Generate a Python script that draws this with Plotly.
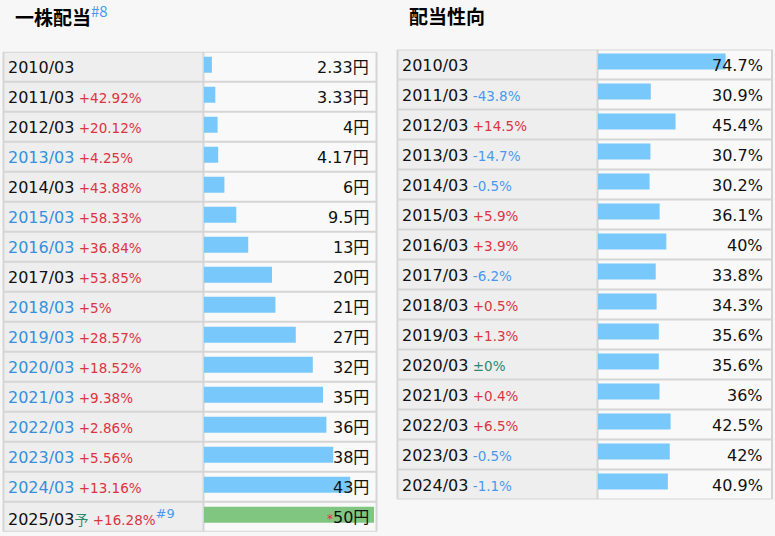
import plotly.graph_objects as go

# ---------------- data ----------------
div_years = ["2010/03", "2011/03", "2012/03", "2013/03", "2014/03", "2015/03", "2016/03", "2017/03",
             "2018/03", "2019/03", "2020/03", "2021/03", "2022/03", "2023/03", "2024/03", "2025/03"]
div_values = [2.33, 3.33, 4, 4.17, 6, 9.5, 13, 20, 21, 27, 32, 35, 36, 38, 43, 50]
div_changes = ["", "+42.92%", "+20.12%", "+4.25%", "+43.88%", "+58.33%", "+36.84%", "+53.85%",
               "+5%", "+28.57%", "+18.52%", "+9.38%", "+2.86%", "+5.56%", "+13.16%", "+16.28%"]
div_year_blue = [False, False, False, True, False, True, True, False,
                 True, True, True, True, True, True, True, False]
div_forecast = [False] * 15 + [True]

pay_years = ["2010/03", "2011/03", "2012/03", "2013/03", "2014/03", "2015/03", "2016/03", "2017/03",
             "2018/03", "2019/03", "2020/03", "2021/03", "2022/03", "2023/03", "2024/03"]
pay_values = [74.7, 30.9, 45.4, 30.7, 30.2, 36.1, 40, 33.8, 34.3, 35.6, 35.6, 36, 42.5, 42, 40.9]
pay_changes = ["", "-43.8%", "+14.5%", "-14.7%", "-0.5%", "+5.9%", "+3.9%", "-6.2%", "+0.5%",
               "+1.3%", "±0%", "+0.4%", "+6.5%", "-0.5%", "-1.1%"]

# ---------------- style ----------------
W, H = 775, 536
FONT = "DejaVu Sans, Noto Sans CJK JP, sans-serif"
BAR_BLUE = "#78c8fc"
BAR_GREEN = "#80c680"
YEAR_BLUE = "#3590dd"
RED = "#dd3340"
NEG_BLUE = "#4a98ee"
ZERO_GREEN = "#2a8a6e"
LABEL_BG = "#eeeeee"
BAR_BG = "#f9f9f9"
LINE = "#d5d5d5"

def px(x):
    return x / W

def py(y):
    return 1 - y / H

def chg_color(s):
    if s.startswith("+"):
        return RED
    if s.startswith("-"):
        return NEG_BLUE
    return ZERO_GREEN

# table geometry (pixels)
L = dict(x0=3.5, xs=203.5, x1=376.5, y0=51.7, n=len(div_years), xref="x", yref="y")
R = dict(x0=397.5, xs=597.5, x1=772.0, y0=49.5, n=len(pay_years), xref="x2", yref="y2")
ROW = 30

fig = go.Figure()

fig.add_trace(go.Bar(
    orientation="h", x=div_values, y=list(range(len(div_values))),
    xaxis="x", yaxis="y",
    marker=dict(color=[BAR_GREEN if f else BAR_BLUE for f in div_forecast], line=dict(width=0)),
    width=16 / ROW, offset=-0.5 + 5 / ROW, hoverinfo="skip", showlegend=False))

fig.add_trace(go.Bar(
    orientation="h", x=pay_values, y=list(range(len(pay_values))),
    xaxis="x2", yaxis="y2",
    marker=dict(color=BAR_BLUE, line=dict(width=0)),
    width=16 / ROW, offset=-0.5 + 4 / ROW, hoverinfo="skip", showlegend=False))

shapes = []
annotations = []

for T in (L, R):
    n = T["n"]
    yr = T["yref"]
    shapes.append(dict(type="rect", xref="paper", yref=yr, x0=px(T["x0"]), x1=px(T["xs"]),
                       y0=-0.5, y1=n - 0.5, fillcolor=LABEL_BG, line=dict(width=0), layer="below"))
    shapes.append(dict(type="rect", xref="paper", yref=yr, x0=px(T["xs"]), x1=px(T["x1"]),
                       y0=-0.5, y1=n - 0.5, fillcolor=BAR_BG, line=dict(width=0), layer="below"))
    for i in range(n + 1):
        shapes.append(dict(type="line", xref="paper", yref=yr, x0=px(T["x0"]), x1=px(T["x1"]),
                           y0=i - 0.5, y1=i - 0.5, line=dict(color=LINE, width=2), layer="below"))
    for xx in (T["x0"], T["xs"], T["x1"]):
        shapes.append(dict(type="line", xref="paper", yref=yr, x0=px(xx), x1=px(xx),
                           y0=-0.5, y1=n - 0.5, line=dict(color=LINE, width=2), layer="below"))

# left table labels
for i, yv in enumerate(div_years):
    col = YEAR_BLUE if div_year_blue[i] else "#111111"
    txt = f"<span style='color:{col}'>{yv}</span>"
    if div_forecast[i]:
        txt += f"<span style='color:{ZERO_GREEN};font-size:14px'>予</span>"
    if div_changes[i]:
        txt += f"<span style='color:{chg_color(div_changes[i])};font-size:13.5px'> {div_changes[i]}</span>"
    if div_forecast[i]:
        txt += f"<sup><span style='color:{NEG_BLUE};font-size:13px'>#9</span></sup>"
    annotations.append(dict(x=px(L["x0"] + 2.5), xref="paper", y=i + 0.02, yref="y", text=txt,
                            xanchor="left", yanchor="middle", showarrow=False,
                            font=dict(family=FONT, size=16, color="#111111")))
    val = f"{div_values[i]:g}円"
    if div_forecast[i]:
        val = f"<span style='color:{RED};font-size:12px'>*</span>" + val
    annotations.append(dict(x=px(L["x1"] - 6), xref="paper", y=i + 0.02, yref="y", text=val,
                            xanchor="right", yanchor="middle", showarrow=False,
                            font=dict(family=FONT, size=16, color="#111111")))

# right table labels
for i, yv in enumerate(pay_years):
    txt = yv
    if pay_changes[i]:
        txt += f"<span style='color:{chg_color(pay_changes[i])};font-size:13.5px'> {pay_changes[i]}</span>"
    annotations.append(dict(x=px(R["x0"] + 2.5), xref="paper", y=i + 0.02, yref="y2", text=txt,
                            xanchor="left", yanchor="middle", showarrow=False,
                            font=dict(family=FONT, size=16, color="#111111")))
    annotations.append(dict(x=px(R["x1"] - 7), xref="paper", y=i + 0.02, yref="y2",
                            text=f"{pay_values[i]:g}%",
                            xanchor="right", yanchor="middle", showarrow=False,
                            font=dict(family=FONT, size=16, color="#111111")))

# titles
annotations.append(dict(x=px(13), xref="paper", y=py(15), yref="paper",
                        text=f"<b>一株配当</b><sup><span style='color:{NEG_BLUE};font-size:15px'>#8</span></sup>",
                        xanchor="left", yanchor="middle", showarrow=False,
                        font=dict(family="Noto Sans CJK JP, sans-serif", size=19, color="#000000")))
annotations.append(dict(x=px(407), xref="paper", y=py(15), yref="paper",
                        text="<b>配当性向</b>",
                        xanchor="left", yanchor="middle", showarrow=False,
                        font=dict(family="Noto Sans CJK JP, sans-serif", size=19, color="#000000")))

ax_common = dict(showgrid=False, zeroline=False, showticklabels=False, showline=False, ticks="",
                 fixedrange=True)

fig.update_layout(
    width=W, height=H,
    margin=dict(l=0, r=0, t=0, b=0),
    paper_bgcolor="#f7f7f7", plot_bgcolor="rgba(0,0,0,0)",
    barmode="overlay",
    xaxis=dict(domain=[px(L["xs"] + 0.5), px(L["x1"] - 0.5)], range=[0, 172 / 3.4], anchor="y", **ax_common),
    yaxis=dict(domain=[py(L["y0"] + ROW * L["n"]), py(L["y0"])], range=[L["n"] - 0.5, -0.5],
               anchor="x", **ax_common),
    xaxis2=dict(domain=[px(R["xs"] + 0.5), px(R["x1"] - 0.5)], range=[0, 174 / 1.713], anchor="y2", **ax_common),
    yaxis2=dict(domain=[py(R["y0"] + ROW * R["n"]), py(R["y0"])], range=[R["n"] - 0.5, -0.5],
                anchor="x2", **ax_common),
    shapes=shapes,
    annotations=annotations,
    font=dict(family=FONT),
)

fig.write_html("out.html")
